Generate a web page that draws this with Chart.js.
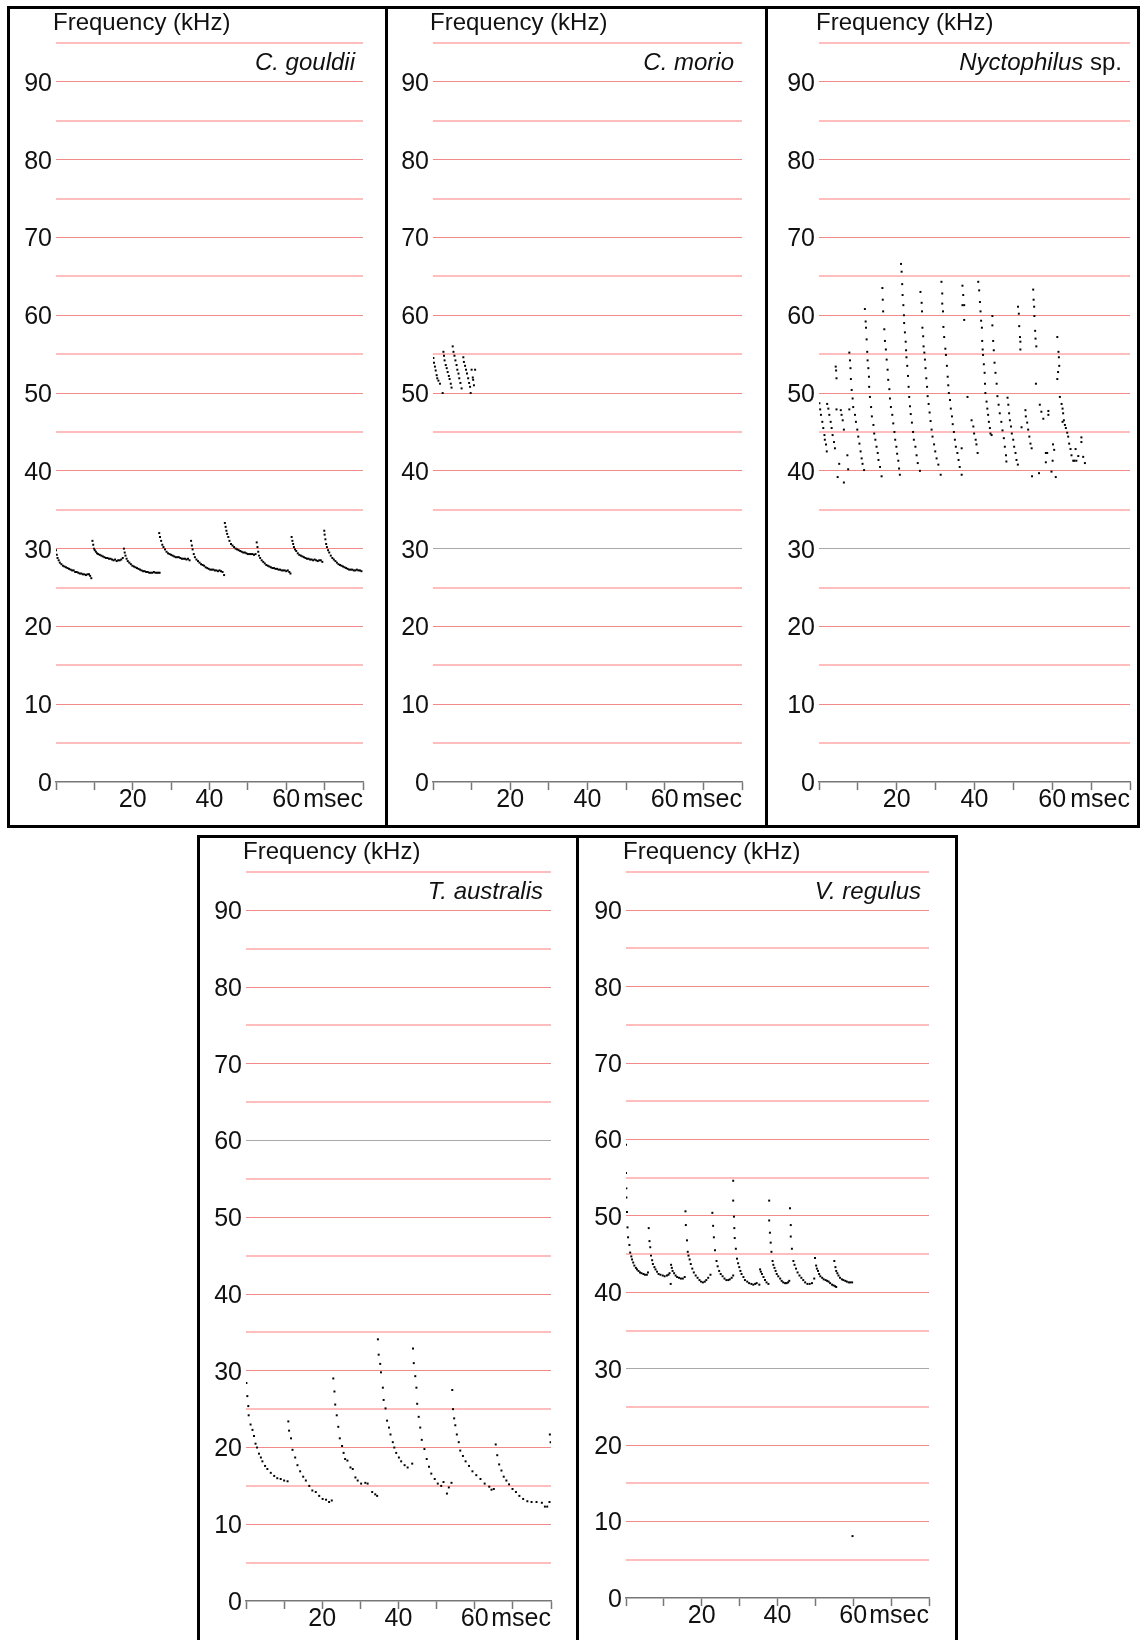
<!DOCTYPE html>
<html>
<head>
<meta charset="utf-8">
<script src="https://cdn.jsdelivr.net/npm/chart.js@4.4.1/dist/chart.umd.min.js"></script>
<style>
  body { margin: 0; background: #fff; width: 1140px; height: 1640px; position: relative; overflow: hidden; }
  .panel { position: absolute; border: 3px solid #000; box-sizing: border-box; background: #fff; }
  .panel canvas { position: absolute; left: 0; top: 0; }
</style>
</head>
<body>
<div class="panel" id="p1"><canvas id="c1"></canvas></div>
<div class="panel" id="p2"><canvas id="c2"></canvas></div>
<div class="panel" id="p3"><canvas id="c3"></canvas></div>
<div class="panel" id="p4"><canvas id="c4"></canvas></div>
<div class="panel" id="p5"><canvas id="c5"></canvas></div>
<script>
// --- data: [time msec, frequency kHz] ---
const gouldiiCalls = [
  [0.0,29.8],[0.2,29.2],[0.4,28.8],[0.7,28.5],[1.0,28.2],[1.4,28.0],[1.8,27.8],[2.2,27.7],[2.6,27.6],[3.0,27.5],[3.4,27.4],[3.8,27.3],[4.2,27.2],[4.6,27.2],[5.0,27.0],[5.4,27.0],[5.8,26.9],[6.2,26.8],[6.6,26.8],[7.0,26.7],[7.4,26.7],[7.8,26.6],[8.2,26.7],[8.6,26.7],[8.9,26.5],[9.2,26.2],
  [9.5,31.0],[9.7,30.5],[9.9,30.0],[10.1,29.8],[10.4,29.6],[10.7,29.4],[11.0,29.3],[11.4,29.2],[11.8,29.1],[12.2,29.0],[12.6,28.9],[13.0,28.8],[13.4,28.8],[13.8,28.7],[14.2,28.7],[14.6,28.6],[15.0,28.5],[15.4,28.6],[15.8,28.4],[16.2,28.5],[16.6,28.5],[17.0,28.6],[17.4,28.8],
  [17.7,30.0],[17.9,29.5],[18.1,29.1],[18.4,28.7],[18.7,28.4],[19.1,28.2],[19.5,28.0],[19.9,27.8],[20.3,27.7],[20.7,27.6],[21.1,27.5],[21.5,27.4],[21.9,27.3],[22.3,27.2],[22.7,27.1],[23.1,27.1],[23.5,27.0],[23.9,27.0],[24.3,26.9],[24.7,26.9],[25.1,26.9],[25.5,27.0],[25.9,26.9],[26.3,26.9],[26.7,26.9],[27.0,26.9],
  [26.9,32.0],[27.1,31.5],[27.4,31.0],[27.7,30.5],[28.0,30.2],[28.4,29.9],[28.8,29.6],[29.2,29.4],[29.6,29.3],[30.0,29.2],[30.4,29.1],[30.8,29.0],[31.2,28.9],[31.6,28.9],[32.0,28.9],[32.4,28.8],[32.8,28.7],[33.2,28.7],[33.6,28.7],[34.0,28.6],[34.4,28.7],[34.8,28.5],
  [35.2,31.0],[35.4,30.4],[35.6,29.9],[35.9,29.3],[36.2,28.9],[36.6,28.6],[37.0,28.4],[37.4,28.2],[37.8,28.0],[38.2,27.9],[38.6,27.8],[39.0,27.6],[39.4,27.5],[39.8,27.4],[40.2,27.3],[40.6,27.3],[41.0,27.3],[41.4,27.2],[41.8,27.2],[42.2,27.1],[42.6,27.2],[43.0,27.1],[43.4,27.0],[43.8,26.6],
  [44.0,33.3],[44.2,32.8],[44.4,32.3],[44.6,31.9],[44.9,31.5],[45.2,31.0],[45.6,30.6],[46.0,30.4],[46.4,30.2],[46.8,30.0],[47.2,29.9],[47.6,29.8],[48.0,29.7],[48.4,29.6],[48.8,29.5],[49.2,29.5],[49.6,29.4],[50.0,29.3],[50.4,29.3],[50.8,29.3],[51.2,29.3],[51.6,29.2],[52.0,29.3],
  [52.3,30.8],[52.5,30.2],[52.7,29.6],[52.9,29.1],[53.2,28.8],[53.6,28.5],[54.0,28.3],[54.4,28.1],[54.8,27.9],[55.2,27.8],[55.6,27.7],[56.0,27.6],[56.4,27.5],[56.8,27.5],[57.2,27.4],[57.6,27.4],[58.0,27.3],[58.4,27.3],[58.8,27.2],[59.2,27.2],[59.6,27.2],[60.0,27.1],[60.4,27.2],[60.8,27.0],[61.1,26.8],
  [61.4,31.5],[61.6,31.0],[61.8,30.6],[62.0,30.2],[62.3,29.9],[62.6,29.7],[63.0,29.4],[63.4,29.2],[63.8,29.1],[64.2,29.0],[64.6,28.9],[65.0,28.8],[65.4,28.7],[65.8,28.7],[66.2,28.6],[66.6,28.6],[67.0,28.5],[67.4,28.6],[67.8,28.5],[68.2,28.4],[68.6,28.5],[69.0,28.5],[69.4,28.3],
  [69.9,32.3],[70.0,31.8],[70.2,31.2],[70.4,30.6],[70.6,30.2],[70.9,29.8],[71.2,29.5],[71.6,29.1],[72.0,28.8],[72.4,28.6],[72.8,28.4],[73.2,28.2],[73.6,28.0],[74.0,27.9],[74.4,27.8],[74.8,27.7],[75.2,27.6],[75.6,27.5],[76.0,27.4],[76.4,27.3],[76.8,27.3],[77.2,27.3],[77.6,27.2],[78.0,27.2],[78.4,27.3],[78.8,27.2],[79.2,27.2],[79.6,27.1]
];

const morioCalls = [
  [0.1,54.5],[0.25,53.9],[0.5,53.4],[0.7,52.9],[0.95,52.3],[1.1,51.9],[1.4,51.6],[1.8,51.2],[2.5,50.0],
  [2.7,55.3],[2.85,54.8],[3.0,54.2],[3.3,53.6],[3.55,53.2],[3.8,52.7],[4.1,52.2],[4.3,51.8],[4.6,51.2],[4.8,50.7],
  [5.1,56.0],[5.3,55.3],[5.55,54.8],[5.8,54.2],[6.1,53.6],[6.3,53.0],[6.6,52.5],[6.8,51.9],[7.1,51.3],[7.4,50.6],
  [7.85,54.6],[8.0,54.0],[8.3,53.5],[8.55,53.0],[8.8,52.5],[9.1,51.9],[9.35,51.3],[9.6,50.8],[9.75,50.0],
  [10.0,53.0],[10.9,53.0],[10.3,52.0],[10.4,51.7],[10.6,51.0]
];

const nyctophilusCalls = [
  [0.1,48.7],[0.3,47.9],[0.5,47.2],[0.85,46.3],[1.1,45.5],[1.4,44.6],[1.5,44.0],[1.8,43.4],[2.0,42.5],
  [2.1,48.6],[2.4,48.0],[2.65,47.2],[3.0,46.3],[3.25,45.5],[3.5,44.6],[3.85,43.7],[4.1,42.9],
  [4.3,53.4],[4.4,52.9],[4.5,51.9],[4.5,47.9],[5.2,40.9],[4.8,39.2],[5.6,47.8],[5.8,47.2],[6.1,46.5],[6.4,45.3],[6.4,38.5],[7.3,42.0],[7.5,40.2],[7.8,47.9],
  [7.8,55.2],[7.97,54.2],[8.1,53.2],[8.2,51.8],[8.4,50.4],[8.65,49.3],[8.8,48.2],[9.25,47.2],[9.5,46.3],[9.85,45.3],[10.1,44.4],[10.4,43.5],[10.7,42.5],[10.97,41.6],[11.2,40.9],[11.6,40.1],
  [11.8,60.8],[12.0,59.2],[12.1,58.4],[12.25,56.9],[12.4,55.3],[12.5,54.2],[12.7,53.2],[12.85,52.1],[12.9,50.8],[13.1,49.5],[13.4,48.2],[13.6,47.0],[14.0,45.9],[14.2,44.8],[14.5,44.0],[14.8,43.1],[15.1,42.3],[15.3,41.4],[15.7,40.5],[16.1,39.3],
  [16.3,63.5],[16.4,62.0],[16.5,60.5],[16.8,58.2],[16.96,56.7],[17.2,55.6],[17.4,54.3],[17.65,53.0],[17.8,51.7],[18.1,50.5],[18.25,49.3],[18.5,48.2],[18.85,47.2],[19.1,46.1],[19.4,45.0],[19.6,44.0],[19.9,43.1],[20.1,42.2],[20.4,41.3],[20.6,40.3],[20.8,39.5],
  [21.1,66.6],[21.25,65.6],[21.4,64.0],[21.5,62.6],[21.7,61.3],[21.85,60.0],[21.9,59.0],[22.1,57.8],[22.3,56.6],[22.4,55.5],[22.5,54.6],[22.7,53.5],[22.9,52.2],[23.05,50.8],[23.2,49.5],[23.4,48.3],[23.6,47.3],[23.9,46.2],[24.2,45.0],[24.4,44.0],[24.8,43.1],[25.1,42.0],[25.4,41.0],[25.96,40.0],
  [26.1,63.0],[26.4,61.6],[26.5,60.5],[26.6,58.4],[26.8,57.3],[26.9,56.0],[27.1,55.2],[27.25,54.3],[27.4,53.2],[27.6,51.9],[27.8,50.8],[27.95,49.6],[28.2,48.6],[28.45,47.5],[28.7,46.4],[28.96,45.3],[29.2,44.4],[29.6,43.4],[29.9,42.5],[30.25,41.6],[30.7,40.8],[31.3,39.5],
  [31.5,64.3],[31.7,62.8],[31.7,61.5],[31.9,60.5],[32.0,58.5],[32.2,57.2],[32.5,55.7],[32.65,54.9],[32.9,53.5],[33.1,52.1],[33.25,51.0],[33.4,50.0],[33.7,49.1],[33.9,48.0],[34.2,47.0],[34.4,46.0],[34.7,45.0],[34.96,44.0],[35.2,43.1],[35.6,42.3],[35.9,41.4],[36.2,40.5],[36.7,39.5],
  [36.9,63.8],[37.1,62.6],[36.9,61.3],[37.35,61.3],[37.35,59.4],[38.2,49.5],[36.7,42.9],
  [39.25,46.5],[39.7,45.7],[39.9,44.8],[40.3,44.0],[40.5,43.4],[40.8,42.3],
  [40.96,64.3],[41.2,63.2],[41.4,61.7],[41.55,60.5],[41.7,59.3],[41.9,58.4],[41.98,56.7],[42.1,55.6],[42.2,54.9],[42.4,53.7],[42.6,52.6],[42.7,51.2],[42.8,50.0],[43.1,48.9],[43.3,48.0],[43.5,47.2],[43.7,46.3],[43.96,45.5],[44.1,44.8],[44.4,44.6],
  [44.6,59.9],[44.6,58.7],[44.8,56.7],[44.96,55.5],[45.15,53.9],[45.4,52.6],[45.7,51.2],[45.9,49.6],[46.2,48.5],[46.5,47.4],[46.9,46.3],[47.2,45.2],[47.55,44.2],[47.8,43.1],[48.1,42.0],[48.2,41.2],
  [48.5,49.4],[48.7,48.5],[48.9,47.4],[49.1,46.5],[49.4,45.7],[49.6,44.8],[49.96,44.0],[50.2,43.1],[50.55,42.3],[50.8,41.4],[51.15,40.8],
  [51.2,61.1],[51.4,60.2],[51.5,58.6],[51.7,57.2],[51.8,56.6],[51.8,55.6],[52.1,45.6],
  [53.1,47.8],[53.2,47.0],[53.55,46.2],[53.8,45.3],[54.1,44.4],[54.4,43.5],[54.7,42.9],
  [55.1,63.3],[55.2,62.0],[55.35,61.1],[55.4,59.9],[55.6,58.0],[55.7,57.0],[55.9,56.0],[55.8,51.2],[54.8,39.3],[56.6,39.7],
  [56.8,48.5],[57.2,47.6],[57.7,46.7],[59.0,47.7],[59.0,47.2],[58.35,42.3],[58.7,42.3],[58.35,41.1],[60.2,43.4],[60.5,42.7],[60.1,41.3],[59.8,39.9],[60.9,39.2],
  [61.3,57.2],[61.6,55.3],[61.7,54.6],[61.8,53.5],[61.5,52.7],[61.3,51.8],
  [61.96,49.5],[62.4,48.6],[62.65,48.0],[62.8,47.4],[62.65,46.3],[63.0,46.5],[63.25,45.9],[63.5,45.5],[63.85,44.9],[64.1,44.4],[64.35,43.5],[64.7,42.8],[64.95,42.0],[65.4,41.3],[65.7,41.3],
  [66.0,42.8],[66.7,41.9],[67.5,44.3],[67.5,43.7],[67.96,41.8],[68.4,41.0],[66.2,41.3]
];

const australisCalls = [
  [0.1,28.4],[0.35,26.7],[0.6,25.4],[0.7,24.2],[1.2,23.0],[1.7,22.3],[2.1,21.5],[2.5,20.5],[2.9,20.0],[3.4,19.2],[3.9,18.7],[4.3,18.2],[5.0,17.6],[5.6,17.2],[6.5,16.7],[7.4,16.3],[8.2,16.0],[9.1,15.9],[10.0,15.7],[10.9,15.6],
  [11.1,23.4],[11.3,22.2],[11.8,21.2],[12.2,19.7],[12.9,18.7],[13.5,17.7],[14.2,16.9],[15.0,16.2],[15.7,15.7],[16.6,15.0],[17.4,14.4],[18.3,14.2],[19.2,13.7],[20.1,13.3],[21.0,13.2],[21.8,12.9],[22.5,13.1],
  [22.9,29.0],[23.2,27.3],[23.4,25.6],[23.8,24.2],[24.2,22.7],[24.6,21.2],[25.2,20.2],[25.6,19.3],[26.0,18.5],[26.6,18.3],[27.4,17.4],[28.0,17.2],[28.7,16.1],[29.3,15.7],[30.2,15.3],[31.3,15.4],[31.9,15.3],[33.1,14.2],[33.9,13.9],[34.4,13.7],
  [34.6,34.1],[34.8,32.1],[35.2,30.9],[35.4,29.8],[35.9,27.8],[36.1,26.2],[36.6,25.1],[37.0,23.5],[37.5,22.6],[37.9,21.7],[38.5,20.7],[38.9,20.0],[39.4,19.3],[40.1,18.7],[40.7,18.2],[41.6,17.7],[42.4,17.4],[43.6,17.9],
  [43.8,32.9],[44.0,31.0],[44.4,29.3],[44.7,27.8],[44.9,25.7],[45.3,24.0],[45.7,22.6],[46.1,21.0],[46.8,19.8],[47.4,18.5],[48.0,17.5],[48.6,16.6],[49.5,15.9],[50.3,15.3],[51.2,15.0],[51.8,15.5],[52.7,14.0],[53.2,14.8],[53.9,15.4],
  [54.1,27.5],[54.3,25.0],[54.6,23.8],[54.9,22.9],[55.3,21.7],[55.8,20.7],[56.2,19.6],[56.9,18.9],[57.6,18.2],[58.5,17.6],[59.4,16.9],[60.4,16.4],[61.5,15.9],[62.6,15.3],[63.8,14.9],[64.4,14.5],[65.0,14.6],
  [65.5,20.4],[65.9,19.0],[66.4,17.8],[67.0,17.0],[67.6,16.2],[68.3,15.7],[69.0,15.2],[69.9,14.6],[70.8,14.2],[71.7,13.7],[72.7,13.3],[73.8,13.0],[74.9,12.9],[76.2,12.9],[77.6,12.8],[78.4,12.3],[79.0,12.3],[79.6,12.9],
  [79.7,21.7],[79.9,20.7]
];

const regulusCalls = [
  [0.0,59.3],[0.0,55.6],[0.1,53.6],[0.1,52.4],[0.25,50.5],[0.4,48.5],[0.55,47.2],[0.9,46.2],[1.1,45.2],[1.4,44.7],[1.6,44.3],[1.9,43.9],[2.2,43.5],[2.6,43.2],[2.9,43.0],[3.3,42.8],[3.7,42.6],[4.1,42.5],[4.6,42.4],[5.0,42.3],[5.5,42.3],[5.8,42.6],
  [6.0,48.4],[6.2,46.7],[6.4,45.9],[6.6,44.8],[6.9,44.2],[7.1,43.7],[7.5,43.3],[7.8,43.0],[8.2,42.7],[8.6,42.4],[9.1,42.3],[9.7,42.2],[10.2,42.1],[10.8,42.2],[11.2,42.3],[11.5,42.5],
  [11.8,41.1],[11.9,43.6],[12.1,43.2],[12.3,42.8],[12.7,42.5],[13.1,42.2],[13.5,42.0],[14.0,41.9],[14.5,41.8],[15.0,41.8],[15.5,42.0],
  [15.7,50.6],[15.8,48.8],[16.1,46.8],[16.3,45.3],[16.5,44.8],[16.8,44.3],[17.1,43.7],[17.5,43.1],[17.9,42.6],[18.4,42.2],[18.9,41.9],[19.4,41.6],[19.8,41.4],[20.3,41.3],[20.8,41.4],[21.2,41.6],[21.7,41.9],[22.3,42.3],
  [22.8,50.4],[23.0,48.7],[23.2,47.2],[23.5,45.5],[23.9,44.1],[24.2,43.4],[24.6,42.8],[25.0,42.4],[25.5,42.1],[26.0,41.8],[26.5,41.6],[27.0,41.6],[27.4,41.7],[27.9,41.9],[28.3,42.2],
  [28.3,54.6],[28.3,52.0],[28.5,49.9],[28.6,48.4],[28.7,47.1],[29.0,45.7],[29.3,44.4],[29.6,43.8],[29.9,43.3],[30.2,42.8],[30.5,42.4],[31.0,42.0],[31.4,41.6],[32.0,41.4],[32.5,41.2],[33.1,41.1],[33.6,41.0],[34.1,41.1],[34.5,41.2],[35.2,41.0],
  [35.4,43.0],[35.6,42.7],[35.9,42.4],[36.3,42.0],[36.7,41.6],[37.1,41.3],[37.6,41.1],
  [37.8,52.0],[37.8,49.4],[38.0,47.8],[38.2,46.5],[38.4,45.3],[38.7,44.1],[38.9,43.6],[39.2,43.2],[39.5,42.8],[39.8,42.4],[40.2,42.1],[40.7,41.8],[41.1,41.5],[41.5,41.3],[42.0,41.2],[42.4,41.2],[42.8,41.3],[43.1,41.5],
  [43.3,51.0],[43.5,48.8],[43.5,47.3],[43.8,45.7],[44.2,44.1],[44.5,43.6],[44.9,43.1],[45.3,42.6],[45.8,42.2],[46.3,41.9],[46.8,41.6],[47.3,41.3],[47.9,41.1],[48.5,41.1],[49.1,41.2],[49.7,41.8],
  [49.9,44.5],[50.2,43.5],[50.4,43.1],[50.7,42.8],[51.0,42.4],[51.3,42.1],[51.8,41.9],[52.2,41.7],[52.7,41.6],[53.1,41.5],[53.5,41.4],[53.9,41.2],[54.4,41.0],[54.8,40.9],[55.2,40.8],[55.5,40.7],
  [55.0,44.1],[55.3,43.3],[55.5,42.8],[55.8,42.5],[56.1,42.2],[56.5,41.9],[57.0,41.7],[57.4,41.6],[57.9,41.5],[58.3,41.4],[58.8,41.3],[59.2,41.3],[59.7,41.3],
  [59.8,8.1]
];

const speciesNames = ['C. gouldii', 'C. morio', 'Nyctophilus', 'T. australis', 'V. regulus'];
const speciesSuffix = ['', '', ' sp.', '', ''];
const grayGridLines = [[], [30], [30], [60], [30]];
const xTickLabels = [20, 40, 60];
const yTickLabels = [0, 10, 20, 30, 40, 50, 60, 70, 80, 90];
const xUnit = 'msec';
const yTitle = 'Frequency (kHz)';

const FONT = '"Liberation Sans", Arial, Helvetica, sans-serif';

// panel boxes [left, top, width, height] and plot areas [left, top, right, bottom] in page px
const layout = [
  { box: [7, 6, 381, 822],   plot: [56, 43, 363, 782] },
  { box: [385, 6, 383, 822], plot: [433, 43, 742, 782] },
  { box: [765, 6, 375, 822], plot: [819, 43, 1130, 782] },
  { box: [197, 835, 382, 812], plot: [246, 872, 551, 1601] },
  { box: [576, 835, 382, 812], plot: [626, 872, 929, 1598] }
];

const allCalls = [gouldiiCalls, morioCalls, nyctophilusCalls, australisCalls, regulusCalls];

const panelText = {
  id: 'panelText',
  afterDraw(chart, args, opts) {
    const { ctx, chartArea: a } = chart;
    ctx.save();
    ctx.fillStyle = '#111';
    ctx.textBaseline = 'middle';
    ctx.font = `24px ${FONT}`;
    ctx.textAlign = 'left';
    ctx.fillText(yTitle, a.left - 3, a.top - 20);
    ctx.textAlign = 'right';
    let xr = a.right - 8;
    if (opts.suffix) {
      ctx.fillText(opts.suffix, xr, a.top + 20);
      xr -= ctx.measureText(opts.suffix).width;
    }
    ctx.font = `italic 24px ${FONT}`;
    ctx.fillText(opts.name, xr, a.top + 20);
    ctx.font = `25px ${FONT}`;
    ctx.fillText(xUnit, a.right, a.bottom + 18);
    ctx.restore();
  }
};

layout.forEach((p, i) => {
  const panel = document.getElementById('p' + (i + 1));
  const [bl, bt, bw, bh] = p.box;
  panel.style.left = bl + 'px';
  panel.style.top = bt + 'px';
  panel.style.width = bw + 'px';
  panel.style.height = bh + 'px';

  const cl = bl + 3, ct = bt + 3, cw = bw - 6, ch = bh - 6;
  const canvas = document.getElementById('c' + (i + 1));
  canvas.width = cw;
  canvas.height = ch;
  canvas.style.width = cw + 'px';
  canvas.style.height = ch + 'px';

  const [pl, pt, pr, pb] = p.plot;
  const grays = grayGridLines[i];

  new Chart(canvas, {
    type: 'scatter',
    data: {
      datasets: [{
        data: allCalls[i].map(([x, y]) => ({ x, y })),
        pointStyle: 'rect',
        pointRadius: 1.4,
        pointBackgroundColor: '#000',
        pointBorderWidth: 0,
        showLine: false
      }]
    },
    options: {
      responsive: false,
      animation: false,
      devicePixelRatio: 1,
      layout: { padding: { left: 0, top: pt - ct, right: (cl + cw) - pr, bottom: 0 } },
      plugins: {
        legend: { display: false },
        tooltip: { enabled: false },
        panelText: { name: speciesNames[i], suffix: speciesSuffix[i] }
      },
      scales: {
        x: {
          type: 'linear',
          min: 0,
          max: 80,
          afterFit: s => { s.height = (ct + ch) - pb; },
          ticks: {
            stepSize: 10,
            autoSkip: false,
            maxRotation: 0,
            padding: 0,
            color: '#111',
            font: { family: FONT, size: 25, lineHeight: 0.8 },
            callback: v => xTickLabels.includes(v) ? String(v) : ''
          },
          grid: { drawOnChartArea: false, tickLength: 8, tickColor: '#777', tickWidth: 1.5, color: '#777' },
          border: { display: true, color: '#777', width: 1.5 }
        },
        y: {
          min: 0,
          max: 95,
          afterFit: s => { s.width = pl - cl; },
          ticks: {
            stepSize: 5,
            autoSkip: false,
            padding: 4,
            labelOffset: 2,
            color: '#111',
            font: { family: FONT, size: 25 },
            callback: v => yTickLabels.includes(v) ? String(v) : ''
          },
          grid: {
            drawTicks: false,
            color: c => {
              const v = c.tick ? c.tick.value : -1;
              if (v === 0) return 'rgba(0,0,0,0)';
              if (grays.includes(v)) return '#a9a9a9';
              return v % 10 === 0 ? '#f28a8a' : '#ffbdbd';
            },
            lineWidth: c => {
              const v = c.tick ? c.tick.value : 0;
              return (v % 10 === 0 || grays.includes(v)) ? 1 : 2;
            }
          },
          border: { display: false }
        }
      }
    },
    plugins: [panelText]
  });
});
</script>
</body>
</html>
